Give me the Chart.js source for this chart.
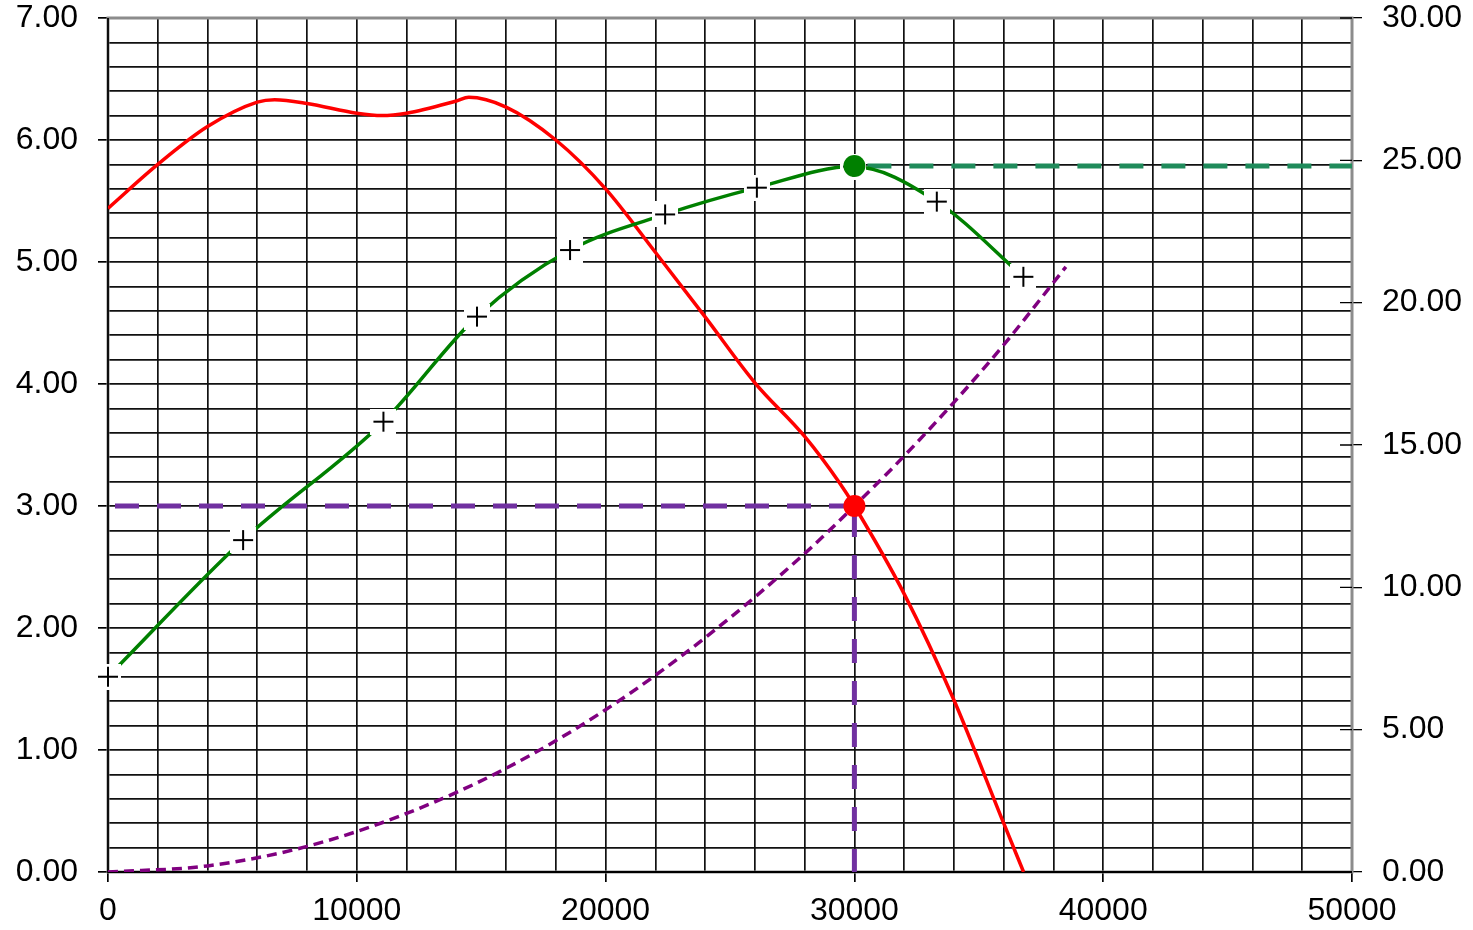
<!DOCTYPE html>
<html>
<head>
<meta charset="utf-8">
<script src="https://cdn.jsdelivr.net/npm/chart.js@4.4.1/dist/chart.umd.min.js"></script>
<style>
  html, body { margin: 0; padding: 0; background: #fff; }
  #wrap { width: 1473px; height: 930px; }
</style>
</head>
<body>
<div id="wrap"><canvas id="chart" width="1473" height="930"></canvas></div>
<script>
// red curve (left axis)
const redFlow = [0, 2000, 4000, 6000, 6700, 8000, 10000, 11000, 12000, 14000, 14500, 16000,
                 18000, 20000, 22000, 24000, 26000, 28000, 29400, 30000, 32000, 34000, 36000, 36800];
const redVals = [5.44, 5.80, 6.11, 6.31, 6.33, 6.30, 6.22, 6.20, 6.22, 6.32, 6.35, 6.27,
                 6.00, 5.60, 5.08, 4.55, 4.01, 3.57, 3.19, 3.00, 2.28, 1.41, 0.40, 0.00];

// green curve with + markers (right axis)
const greenFlow = [0, 5430, 11070, 14830, 18570, 22390, 26080, 29950, 33310, 36790];
const greenVals = [6.86, 11.66, 15.82, 19.51, 21.85, 23.10, 24.04, 24.78, 23.55, 20.91];

// purple dashed curve (left axis)
const purpleFlow = [0, 4000, 8000, 12000, 16000, 20000, 24000, 28000, 30000, 32000, 34000, 36000, 38500];
const purpleVals = [0.00, 0.05, 0.21, 0.48, 0.85, 1.33, 1.92, 2.61, 3.00, 3.41, 3.85, 4.32, 4.96];

// operating point
const opFlow = 30000;
const opLeft = 3.0;
const opRight = 24.8;

// axes
const xMax = 50000, xStep = 2000, xLabelStep = 10000;
const leftMax = 7, leftStep = 0.2;
const rightMax = 30, rightStep = 5;

function pts(xs, ys) {
    return xs.map((x, i) => ({ x: x, y: ys[i] }));
}

function isWhole(v) {
    return Math.abs(v - Math.round(v)) < 1e-6;
}

// keep the axis boxes at fixed sizes, no extra label padding
function fixSize(w, h) {
    return s => {
        if (w) s.width = w;
        if (h) s.height = h;
        s.paddingTop = 0;
        s.paddingBottom = 0;
        s.paddingLeft = 0;
        s.paddingRight = 0;
    };
}

// "+" marker sitting on a small white box
function plusMarker() {
    const c = document.createElement('canvas');
    c.width = 26;
    c.height = 26;
    const g = c.getContext('2d');
    g.fillStyle = '#fff';
    g.fillRect(0, 0, 26, 26);
    g.strokeStyle = '#000';
    g.lineWidth = 2;
    g.beginPath();
    g.moveTo(3, 13); g.lineTo(23, 13);
    g.moveTo(13, 3); g.lineTo(13, 23);
    g.stroke();
    return c;
}

// plot frame + inner half of the right axis ticks
const framePlugin = {
    id: 'frame',
    beforeDatasetsDraw(chart) {
        const ctx = chart.ctx;
        const a = chart.chartArea;
        ctx.save();
        ctx.strokeStyle = '#8c8c8c';
        ctx.lineWidth = 3;
        ctx.strokeRect(a.left, a.top, a.right - a.left, a.bottom - a.top);
        ctx.strokeStyle = '#000';
        ctx.lineWidth = 1.8;
        ctx.beginPath();
        ctx.moveTo(a.left, a.top);
        ctx.lineTo(a.left, a.bottom);
        ctx.lineTo(a.right, a.bottom);
        ctx.stroke();
        const y1 = chart.scales.y1;
        ctx.lineWidth = 1.3;
        ctx.beginPath();
        y1.ticks.forEach(t => {
            const y = y1.getPixelForValue(t.value);
            ctx.moveTo(a.right - 12, y);
            ctx.lineTo(a.right, y);
        });
        ctx.stroke();
        ctx.restore();
    }
};

Chart.defaults.font.family = "'Liberation Sans', Arial, sans-serif";
Chart.defaults.font.size = 32;
Chart.defaults.color = '#000';

const marker = plusMarker();

new Chart(document.getElementById('chart').getContext('2d'), {
    type: 'line',
    data: {
        datasets: [
            {
                data: [{ x: opFlow, y: opLeft }],
                yAxisID: 'y',
                showLine: false,
                pointRadius: 11,
                pointBorderWidth: 0,
                pointBackgroundColor: '#ff0000'
            },
            {
                data: [{ x: opFlow, y: opRight }],
                yAxisID: 'y1',
                showLine: false,
                pointRadius: 11,
                pointBorderWidth: 0,
                pointBackgroundColor: '#008000'
            },
            {
                data: pts(greenFlow, greenVals),
                yAxisID: 'y1',
                borderColor: '#008000',
                borderWidth: 3.5,
                cubicInterpolationMode: 'monotone',
                pointStyle: marker,
                pointRadius: 12,
                clip: false
            },
            {
                data: pts(redFlow, redVals),
                yAxisID: 'y',
                borderColor: '#ff0000',
                borderWidth: 3.5,
                cubicInterpolationMode: 'monotone',
                pointRadius: 0
            },
            {
                data: pts(purpleFlow, purpleVals),
                yAxisID: 'y',
                borderColor: '#800080',
                borderWidth: 3.5,
                borderDash: [10, 6],
                cubicInterpolationMode: 'monotone',
                pointRadius: 0
            },
            {
                data: [{ x: 0, y: opLeft }, { x: opFlow, y: opLeft }],
                yAxisID: 'y',
                borderColor: '#7030a0',
                borderWidth: 5,
                borderDash: [24, 18],
                borderDashOffset: 35,
                pointRadius: 0
            },
            {
                data: [{ x: opFlow, y: opLeft }, { x: opFlow, y: 0 }],
                yAxisID: 'y',
                borderColor: '#7030a0',
                borderWidth: 5,
                borderDash: [24, 18],
                borderDashOffset: 35,
                pointRadius: 0
            },
            {
                data: [{ x: opFlow, y: opRight }, { x: xMax, y: opRight }],
                yAxisID: 'y1',
                borderColor: '#1f8b5b',
                borderWidth: 5,
                borderDash: [24, 18],
                borderDashOffset: 29,
                pointRadius: 0
            }
        ]
    },
    options: {
        responsive: false,
        animation: false,
        devicePixelRatio: 1,
        layout: { padding: { top: 18, left: 0, right: 0, bottom: 0 } },
        plugins: {
            legend: { display: false },
            tooltip: { enabled: false }
        },
        scales: {
            x: {
                type: 'linear',
                min: 0,
                max: xMax,
                afterFit: fixSize(0, 58),
                ticks: {
                    stepSize: xStep,
                    autoSkip: false,
                    maxRotation: 0,
                    padding: 10,
                    callback: v => (v % xLabelStep === 0 ? String(v) : '')
                },
                grid: {
                    color: '#111',
                    lineWidth: 1.7,
                    tickLength: 10,
                    tickColor: c => (c.tick && c.tick.value % xLabelStep === 0 ? '#000' : 'rgba(0,0,0,0)')
                },
                border: { display: false }
            },
            y: {
                position: 'left',
                min: 0,
                max: leftMax,
                afterFit: fixSize(108, 0),
                ticks: {
                    stepSize: leftStep,
                    autoSkip: false,
                    padding: 20,
                    callback: v => (isWhole(v) ? v.toFixed(2) : '')
                },
                grid: {
                    color: '#111',
                    lineWidth: 1.7,
                    tickLength: 10,
                    tickColor: c => (c.tick && isWhole(c.tick.value) ? '#000' : 'rgba(0,0,0,0)')
                },
                border: { display: false }
            },
            y1: {
                position: 'right',
                min: 0,
                max: rightMax,
                afterFit: fixSize(121, 0),
                ticks: {
                    stepSize: rightStep,
                    padding: 20,
                    callback: v => v.toFixed(2)
                },
                grid: {
                    drawOnChartArea: false,
                    tickLength: 10,
                    tickColor: '#000',
                    lineWidth: 1.3
                },
                border: { display: false }
            }
        }
    },
    plugins: [framePlugin]
});
</script>
</body>
</html>
